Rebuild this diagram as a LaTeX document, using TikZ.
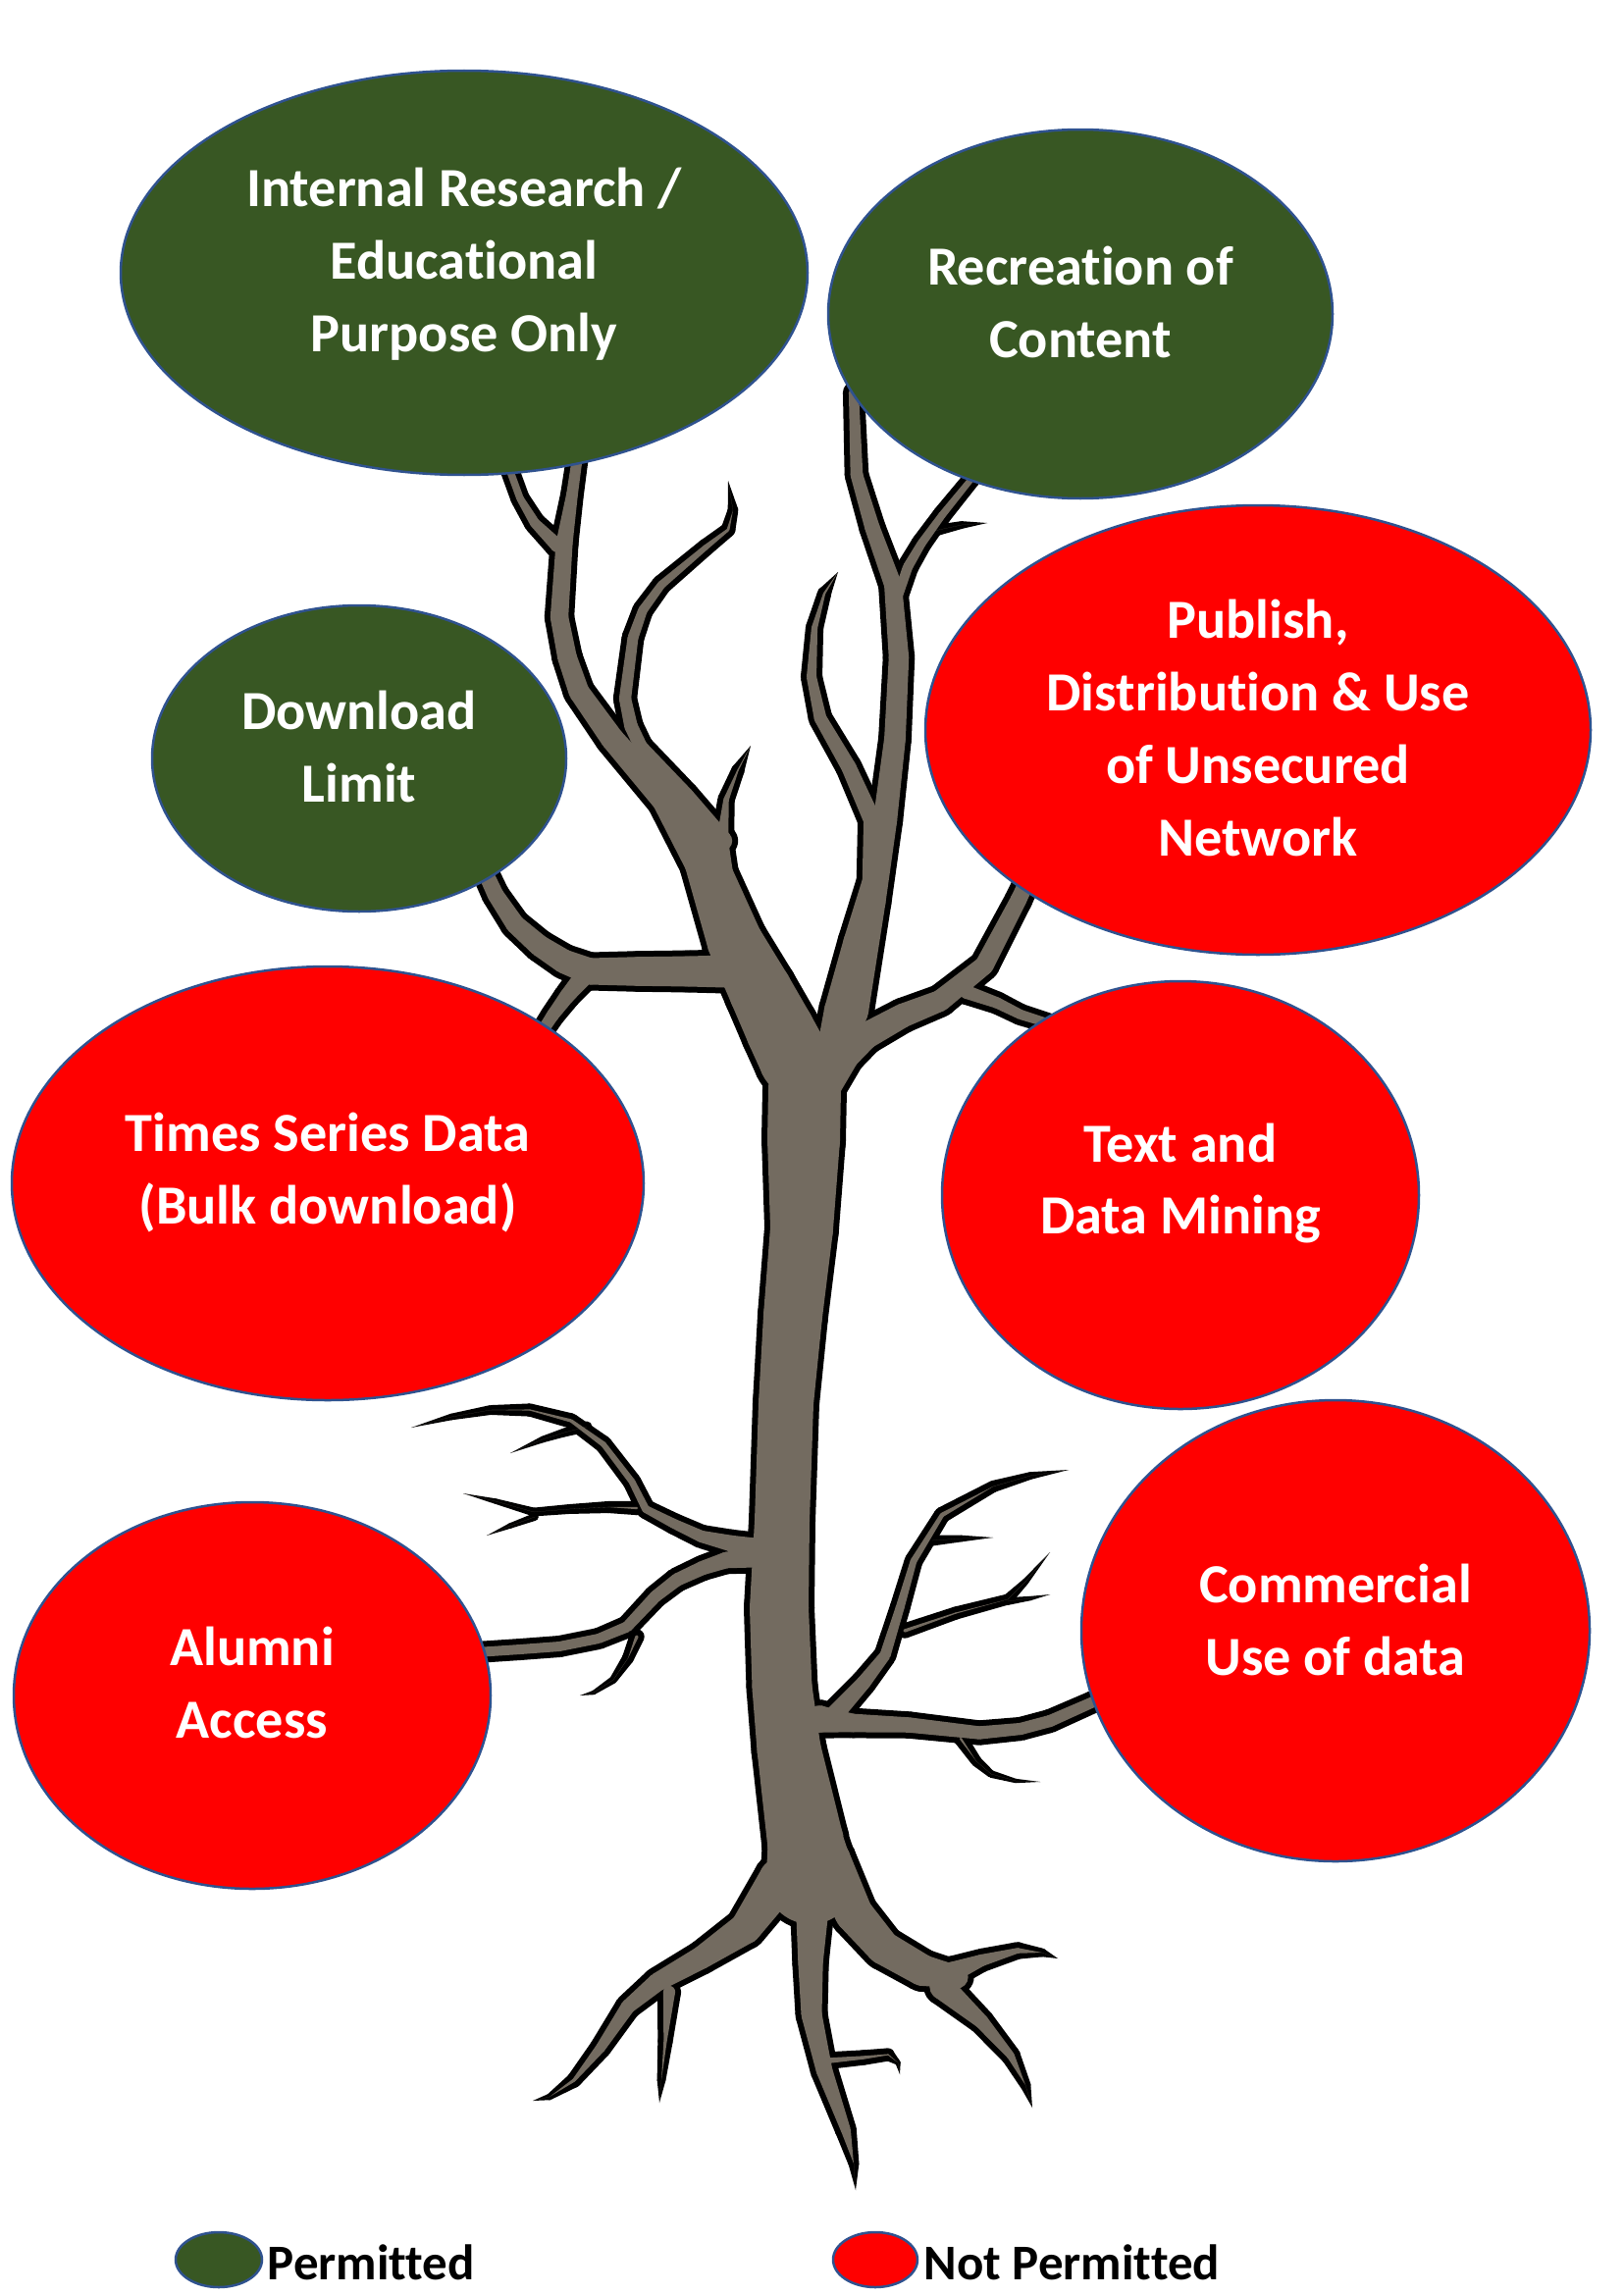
\documentclass[tikz,border=0pt]{standalone}
\usepackage{fontspec}
\setmainfont{Carlito}[Ligatures=NoCommon]
\usetikzlibrary{shapes.geometric,calc}
\definecolor{leafgreen}{HTML}{385723}
\definecolor{leafred}{HTML}{FF0000}
\definecolor{rim}{HTML}{2F528F}
\definecolor{bark}{RGB}{115,107,96}

% tapered limb: #1 = width taken off (0 = outline pass), #2 = width factor, #3 = list x/y/outer-width
\newcommand\tbranch[3]{%
  \foreach \xa/\ya/\wa [remember=\xa as \xp (initially 0), remember=\ya as \yp (initially 0), remember=\wa as \wp (initially 0), count=\ci] in #3 {%
    \pgfmathsetlengthmacro\tbRa{max(\wa*#2-#1,0)*0.05mm}%
    \fill (\xa,\ya) circle[radius=\tbRa];
    \ifnum\ci>1
      \pgfmathsetlengthmacro\tbRp{max(\wp*#2-#1,0)*0.05mm}%
      \fill ($(\xp,\yp)!\tbRp!90:(\xa,\ya)$) -- ($(\xa,\ya)!\tbRa!-90:(\xp,\yp)$) -- ($(\xa,\ya)!\tbRa!90:(\xp,\yp)$) -- ($(\xp,\yp)!\tbRp!-90:(\xa,\ya)$) -- cycle;
    \fi
  }%
}

% trunk
\def\brTrunk{815/1075/74, 820/1110/86, 819/1162/86, 817/1252/76, 808/1341/72, 801/1430/68, 797/1550/68, 794/1639/72, 797/1720/73, 804/1783/77, 821/1878/90, 826/1915/104}
% roots
\def\brRL{795/1915/50, 760/1965/40, 715/1995/32, 670/2020/28, 640/2045/24, 612/2087/20, 585/2120/14, 560/2137/6, 543/2141/0}
\def\brRLs{682/2030/22, 678/2080/14, 674/2120/8, 672/2143/0}
\def\brRT{828/1915/50, 828/1940/42, 826/2000/34, 827/2053/30, 840/2110/26, 862/2171/20, 870/2205/10, 872/2232/0}
\def\brRTt{845/2100/16, 880/2097/14, 905/2094/12, 915/2102/5, 917/2114/0}
\def\brRR{845/1895/50, 870/1950/46, 900/1985/42, 940/2008/40, 975/2015/32}
\def\brRRa{970/2010/30, 1000/1998/22, 1037/1988/16, 1062/1990/8, 1078/1996/0}
\def\brRRb{960/2025/34, 1000/2060/24, 1030/2095/18, 1045/2125/10, 1052/2148/0}
% lower left limb
\def\brBLu{770/1578/30, 745/1573/26, 715/1566/22, 687/1553/20, 658/1538/18, 644/1510/17, 615/1472/16, 582/1448/14, 540/1437/12, 500/1437/9, 460/1444/6, 419/1455/0}
\def\brBLa{649/1537/13, 620/1536/11, 580/1538/9, 544/1541/8, 505/1530/5, 472/1522/0}
\def\brBLm{545/1546/7, 520/1555/5, 496/1565/0}
\def\brBLb{598/1454/10, 575/1460/8, 553/1467/6, 520/1481/0}
\def\brBLl{770/1587/30, 740/1590/26, 716/1598/24, 690/1610/23, 668/1627/22, 639/1658/21, 610/1670/20, 570/1678/20, 530/1681/20, 470/1685/20}
\def\brBLt{649/1668/14, 640/1690/11, 625/1712/7, 605/1725/4, 591/1728/0}
% lower right limb
\def\brBR{835/1752/36, 869/1756/28, 926/1758/25, 998/1766/23, 1040/1762/22, 1070/1754/22, 1113/1735/21, 1140/1722/21}
\def\brBRt{979/1772/13, 995/1795/10, 1010/1808/7, 1035/1815/4, 1060/1816/0}
\def\brBRu{848/1750/28, 880/1715/24, 902/1687/21, 917/1639/19, 931/1591/17, 960/1544/15, 1012/1515/11, 1050/1504/7, 1089/1498/0}
\def\brBRc{922/1662/14, 974/1644/12, 1027/1630/10, 1045/1612/6, 1070/1582/0}
\def\brBRm{1027/1632/7, 1050/1629/4, 1070/1625/0}
\def\brBRd{950/1570/10, 980/1568/6, 1012/1567/0}
% crown
\def\brLa{590/455/17, 583/504/18, 575/554/22, 570/629/23, 578/670/24, 590/705/25, 624/753/27, 678/815/30, 719/878/42, 749/960/52, 775/1010/58, 795/1050/62, 810/1080/64}
\def\brLf{518/475/15, 530/508/15, 545/533/17, 568/556/20}
\def\brLb{742/490/0, 747/520/8, 742/540/11, 719/558/13, 674/596/15, 655/622/16, 645/650/17, 637/712/18, 643/740/19, 653/761/19, 699/811/21, 736/857/24}
\def\brLc{765/760/0, 752/785/10, 740/815/13, 736/857/18, 740/898/21, 757/940/24}
\def\brRa{854/583/0, 840/605/11, 830/640/14, 827/690/17, 836/732/19, 865/782/21, 889/836/23, 889/898/25, 873/960/30, 856/1030/34, 848/1080/36}
\def\brRb{870/400/17, 873/484/19, 889/538/21, 910/596/23, 916/670/25, 912/753/26, 902/836/28, 889/919/30, 869/1030/34, 848/1080/36}
\def\brRbs{914/610/17, 925/578/17, 939/554/16, 960/525/15, 990/488/14}
\def\brRbt{952/541/9, 980/535/6, 1006/533/0}
\def\brRc{835/1110/40, 860/1075/34, 882/1056/30, 920/1035/28, 958/1020/26, 1003/984/24, 1038/917/22, 1060/870/21}
\def\brRct{985/1011/20, 1016/1022/18, 1040/1034/17, 1075/1045/16}
\def\brLd{770/992/36, 748/990/35, 700/990/33, 650/990/32, 601/990/30, 575/980/28, 550/964/26, 525/942/24, 505/912/22, 488/875/21}
\def\brLdt{595/995/24, 578/1015/21, 563/1035/19, 550/1055/18}

\newcommand\drawtree[1]{%
  \tbranch{#1}{1}{\brTrunk}%
  \tbranch{#1}{1.1}{\brRL}\tbranch{#1}{1.1}{\brRLs}\tbranch{#1}{1.1}{\brRT}\tbranch{#1}{1.1}{\brRTt}%
  \tbranch{#1}{1.1}{\brRR}\tbranch{#1}{1.1}{\brRRa}\tbranch{#1}{1.1}{\brRRb}%
  \tbranch{#1}{1.1}{\brBLu}\tbranch{#1}{1.1}{\brBLa}\tbranch{#1}{1.1}{\brBLm}\tbranch{#1}{1.1}{\brBLb}\tbranch{#1}{1.1}{\brBLl}\tbranch{#1}{1.1}{\brBLt}%
  \tbranch{#1}{1.1}{\brBR}\tbranch{#1}{1.1}{\brBRt}\tbranch{#1}{1.1}{\brBRu}\tbranch{#1}{1.1}{\brBRc}\tbranch{#1}{1.1}{\brBRm}\tbranch{#1}{1.1}{\brBRd}%
  \tbranch{#1}{1.32}{\brLa}\tbranch{#1}{1.3}{\brLf}\tbranch{#1}{1.35}{\brLb}\tbranch{#1}{1.35}{\brLc}%
  \tbranch{#1}{1.3}{\brRa}\tbranch{#1}{1.3}{\brRb}\tbranch{#1}{1.3}{\brRbs}\tbranch{#1}{1.3}{\brRbt}%
  \tbranch{#1}{1.3}{\brRc}\tbranch{#1}{1.3}{\brRct}\tbranch{#1}{1.3}{\brLd}\tbranch{#1}{1.3}{\brLdt}%
}

\begin{document}
\begin{tikzpicture}[x=0.1mm, y=-0.1mm,
  leaf/.style={ellipse, draw=rim, line width=0.25mm, inner sep=0pt},
  good/.style={leaf, fill=leafgreen},
  bad/.style={leaf, fill=leafred},
  lbl/.style={text=white, font=\bfseries\fontsize{16}{21}\selectfont, align=center, inner sep=0pt},
  key/.style={text=black, font=\bfseries\fontsize{14.5}{18}\selectfont, inner sep=0pt, anchor=west}]
\useasboundingbox (0,0) rectangle (1654,2339);
\fill[white] (0,0) rectangle (1654,2339);

% tree: black outline pass, then bark pass
\begin{scope}[fill=black]
  \drawtree{0}
\end{scope}
\begin{scope}[fill=bark]
  \drawtree{12}
\end{scope}

% leaves
\node[good, minimum width=70mm,   minimum height=41.2mm] (n1) at (473,278) {};
\node[good, minimum width=51.4mm, minimum height=37.6mm] (n2) at (1101,320) {};
\node[good, minimum width=42.2mm, minimum height=31.2mm] (n3) at (366,773) {};
\node[bad,  minimum width=67.8mm, minimum height=45.8mm] (n4) at (1282,744) {};
\node[bad,  minimum width=64.4mm, minimum height=44.2mm] (n5) at (334,1206) {};
\node[bad,  minimum width=48.6mm, minimum height=43.6mm] (n6) at (1203,1218) {};
\node[bad,  minimum width=51.8mm, minimum height=47mm]   (n7) at (1361,1662) {};
\node[bad,  minimum width=48.6mm, minimum height=39.4mm] (n8) at (257,1728) {};

\node[lbl] (n1t) at (473,269)  {Internal Research /\\Educational\\Purpose Only};
\node[lbl] (n2t) at (1101,308) {Recreation of\\Content};
\node[lbl] (n3t) at (366,761)  {Download\\Limit};
\node[lbl] (n4t) at (1282,742) {Publish,\\Distribution \& Use\\of Unsecured\\Network};
\node[lbl] (n5t) at (334,1195) {Times Series Data\\(Bulk download)};
\node[lbl] (n6t) at (1203,1206) {Text and\\Data Mining};
\node[lbl] (n7t) at (1361,1651) {Commercial\\Use of data};
\node[lbl] (n8t) at (257,1715) {Alumni\\Access};

% legend
\node[good, minimum width=8.8mm, minimum height=5.6mm] (lg1) at (223,2303) {};
\node[key] (lg1t) at (272,2306) {Permitted};
\node[bad, minimum width=8.6mm, minimum height=5.6mm] (lg2) at (892,2303) {};
\node[key] (lg2t) at (941,2306) {Not Permitted};
\end{tikzpicture}
\end{document}
